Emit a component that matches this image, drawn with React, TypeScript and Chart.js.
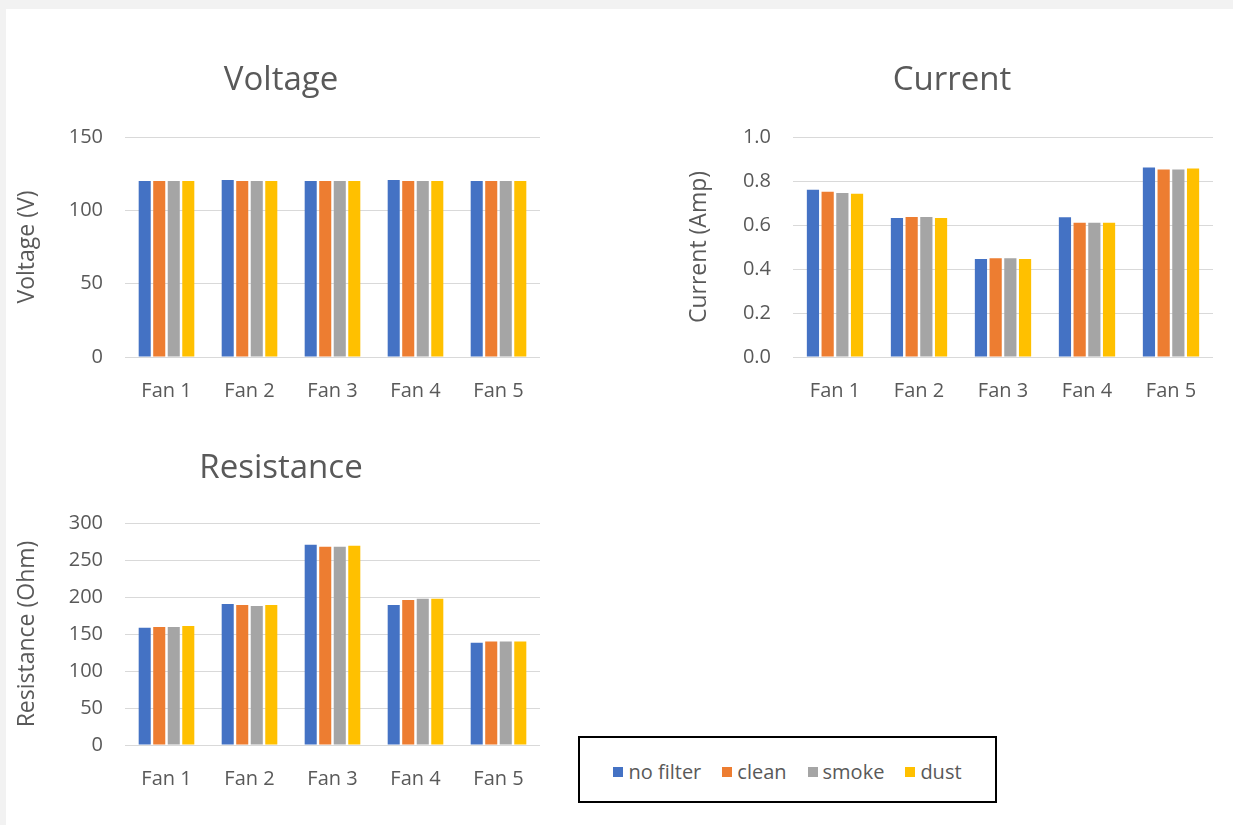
import React, { useEffect, useRef } from "react";
import { Chart, registerables } from "chart.js";
Chart.register(...registerables);

const categories = ["Fan 1", "Fan 2", "Fan 3", "Fan 4", "Fan 5"];
const seriesNames = ["no filter", "clean", "smoke", "dust"];
const seriesColors = ["#4472C4", "#ED7D31", "#A5A5A5", "#FFC000"];

const voltageNoFilter = [120.0, 120.6, 120.0, 120.6, 120.0];
const voltageClean = [120.0, 120.0, 120.0, 120.0, 120.0];
const voltageSmoke = [120.0, 120.0, 120.0, 120.0, 120.0];
const voltageDust = [120.0, 120.0, 120.0, 120.0, 120.0];
const voltageTicks = [0, 50, 100, 150];

const currentNoFilter = [0.76, 0.632, 0.445, 0.635, 0.861];
const currentClean = [0.751, 0.636, 0.449, 0.61, 0.852];
const currentSmoke = [0.746, 0.636, 0.449, 0.61, 0.852];
const currentDust = [0.742, 0.632, 0.445, 0.61, 0.857];
const currentTicks = [0, 0.2, 0.4, 0.6, 0.8, 1.0];

const resistanceNoFilter = [158.6, 190.7, 270.7, 189.3, 138.3];
const resistanceClean = [159.5, 189.3, 268.0, 196.1, 140.0];
const resistanceSmoke = [159.5, 188.0, 268.0, 197.5, 140.0];
const resistanceDust = [160.9, 189.3, 269.3, 197.5, 140.0];
const resistanceTicks = [0, 50, 100, 150, 200, 250, 300];

const FONT = "'Open Sans', 'Noto Sans', sans-serif";
const TEXT = "#595959";

type Cfg = {
  title: string;
  yTitle: string;
  series: number[][];
  ticks: number[];
  fmt: (v: number) => string;
  width: number;
  height: number;
  titleCenterY: number;
  chartTop: number;
  yWidth: number;
  xHeight: number;
  yTitleCenterX: number;
  padLeft: number;
  padRight: number;
};

const TITLE_SIZE = 33;
const TITLE_LH = TITLE_SIZE * 1.2;
const YT_SIZE = 23;
const YT_LH = YT_SIZE * 1.2;

function BarPanel({ cfg, style }: { cfg: Cfg; style: React.CSSProperties }) {
  const ref = useRef<HTMLCanvasElement | null>(null);
  useEffect(() => {
    if (!ref.current) return;
    const titlePadTop = cfg.titleCenterY - TITLE_LH / 2;
    const titlePadBottom = cfg.chartTop - titlePadTop - TITLE_LH;
    const yTitlePadTop = cfg.yTitleCenterX - cfg.padLeft - YT_LH / 2;
    const chart = new Chart(ref.current, {
      type: "bar",
      data: {
        labels: categories,
        datasets: cfg.series.map((vals, i) => ({
          label: seriesNames[i],
          data: vals,
          backgroundColor: seriesColors[i],
          borderWidth: 0,
          categoryPercentage: 0.7,
          barPercentage: 0.83,
        })),
      },
      options: {
        responsive: false,
        animation: false,
        layout: { padding: { left: cfg.padLeft, right: cfg.padRight, top: 0, bottom: 0 } },
        plugins: {
          legend: { display: false },
          tooltip: { enabled: false },
          title: {
            display: true,
            text: cfg.title,
            color: TEXT,
            font: { family: FONT, size: TITLE_SIZE, weight: "normal", lineHeight: 1.2 },
            padding: { top: titlePadTop, bottom: titlePadBottom },
          },
        },
        scales: {
          x: {
            grid: { display: false },
            border: { display: false },
            ticks: { color: TEXT, font: { family: FONT, size: 20 }, padding: 14 },
            afterFit: (s: any) => {
              s.height = cfg.xHeight;
            },
          },
          y: {
            min: cfg.ticks[0],
            max: cfg.ticks[cfg.ticks.length - 1],
            afterBuildTicks: (s: any) => {
              s.ticks = cfg.ticks.map((v) => ({ value: v }));
            },
            grid: { color: "#D9D9D9", lineWidth: 1, drawTicks: false },
            border: { display: false },
            ticks: {
              color: TEXT,
              font: { family: FONT, size: 20 },
              padding: 22,
              callback: (v: any) => cfg.fmt(Number(v)),
            },
            title: {
              display: true,
              text: cfg.yTitle,
              color: TEXT,
              font: { family: FONT, size: YT_SIZE, lineHeight: 1.2 },
              padding: { top: yTitlePadTop, bottom: 0 },
            },
            afterFit: (s: any) => {
              s.width = cfg.yWidth;
            },
          },
        },
      },
    });
    return () => chart.destroy();
  }, []);
  return (
    <canvas
      ref={ref}
      width={cfg.width}
      height={cfg.height}
      style={{ position: "absolute", width: cfg.width, height: cfg.height, ...style }}
    />
  );
}

// Voltage: canvas at (0,0); plot 125..540 x 137..357; title centre (281, 81)
const voltageCfg: Cfg = {
  title: "Voltage",
  yTitle: "Voltage (V)",
  series: [voltageNoFilter, voltageClean, voltageSmoke, voltageDust],
  ticks: voltageTicks,
  fmt: (v) => String(v),
  width: 562,
  height: 420,
  titleCenterY: 81,
  chartTop: 137,
  yWidth: 103,
  xHeight: 63,
  yTitleCenterX: 27,
  padLeft: 22,
  padRight: 22,
};

// Current: canvas at (680,0); plot 793..1213 x 137..357; title centre (952, 81)
const currentCfg: Cfg = {
  title: "Current",
  yTitle: "Current (Amp)",
  series: [currentNoFilter, currentClean, currentSmoke, currentDust],
  ticks: currentTicks,
  fmt: (v) => v.toFixed(1),
  width: 544,
  height: 420,
  titleCenterY: 81,
  chartTop: 137,
  yWidth: 102,
  xHeight: 63,
  yTitleCenterX: 19,
  padLeft: 11,
  padRight: 11,
};

// Resistance: canvas at (0,420); plot 125..540 x 523..745; title centre (281, 469)
const resistanceCfg: Cfg = {
  title: "Resistance",
  yTitle: "Resistance (Ohm)",
  series: [resistanceNoFilter, resistanceClean, resistanceSmoke, resistanceDust],
  ticks: resistanceTicks,
  fmt: (v) => String(v),
  width: 562,
  height: 405,
  titleCenterY: 49,
  chartTop: 103,
  yWidth: 103,
  xHeight: 80,
  yTitleCenterX: 27,
  padLeft: 22,
  padRight: 22,
};

export default function App() {
  return (
    <div
      style={{
        position: "absolute",
        left: 0,
        top: 0,
        width: 1233,
        height: 825,
        background: "#F2F2F2",
        overflow: "hidden",
      }}
    >
      <div style={{ position: "absolute", left: 6, top: 9, width: 1227, height: 816, background: "#FFFFFF" }} />
      <BarPanel cfg={voltageCfg} style={{ left: 0, top: 0 }} />
      <BarPanel cfg={currentCfg} style={{ left: 680, top: 0 }} />
      <BarPanel cfg={resistanceCfg} style={{ left: 0, top: 420 }} />
      <div
        style={{
          position: "absolute",
          left: 578,
          top: 736,
          width: 419,
          height: 67,
          boxSizing: "border-box",
          border: "2px solid #000000",
          background: "#FFFFFF",
          display: "flex",
          alignItems: "center",
          justifyContent: "center",
          paddingTop: 4,
          fontFamily: FONT,
          fontSize: 20,
          color: TEXT,
        }}
      >
        {seriesNames.map((name, i) => (
          <span
            key={name}
            style={{
              display: "flex",
              alignItems: "center",
              marginRight: i < seriesNames.length - 1 ? 21 : 0,
            }}
          >
            <span
              style={{
                display: "inline-block",
                width: 10,
                height: 10,
                background: seriesColors[i],
                marginRight: 5,
              }}
            />
            <span>{name}</span>
          </span>
        ))}
      </div>
    </div>
  );
}
